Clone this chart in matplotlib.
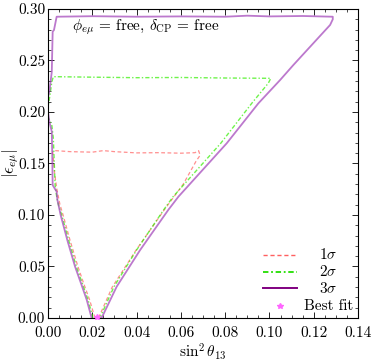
import matplotlib
matplotlib.use("Agg")
import matplotlib.pyplot as plt
from matplotlib.ticker import MultipleLocator, FormatStrFormatter

plt.rcParams['font.family'] = ['cmr10', 'DejaVu Serif']
plt.rcParams['mathtext.fontset'] = 'cm'
plt.rcParams['axes.unicode_minus'] = False
plt.rcParams['axes.formatter.use_mathtext'] = True

# 3 sigma contour (sin^2 theta13, |eps_emu|)
s3_x = [0.0197, 0.0175, 0.0150, 0.0122, 0.0088, 0.0057, 0.0042, 0.0039, 0.0021, 0.0019, 0.0017,
        0.0006, 0.0000, 0.0000, 0.0006, 0.0017, 0.0021, 0.0027, 0.0039,
        0.020, 0.040, 0.060, 0.080, 0.090, 0.100, 0.115, 0.1286, 0.1286, 0.1274,
        0.1108, 0.1048, 0.0950, 0.0807, 0.0589, 0.0543, 0.0416, 0.0310, 0.0242]
s3_y = [0.000, 0.0175, 0.033, 0.050, 0.075, 0.100, 0.115, 0.1226, 0.129, 0.160, 0.181,
        0.1906, 0.200, 0.215, 0.2197, 0.239, 0.278, 0.2796, 0.2925,
        0.2930, 0.2925, 0.2928, 0.2925, 0.2935, 0.2928, 0.2932, 0.2925, 0.2900, 0.2845,
        0.2456, 0.231, 0.2084, 0.1696, 0.1178, 0.1049, 0.066, 0.0304, 0.000]

# 2 sigma contour
s2_x = [0.0203, 0.0181, 0.0156, 0.0128, 0.0094, 0.0062, 0.0047, 0.0039, 0.0032, 0.0024, 0.0017,
        0.0000, 0.0000, 0.0009, 0.0017, 0.0024,
        0.020, 0.040, 0.060, 0.080, 0.1006, 0.0995,
        0.0920, 0.0780, 0.0565, 0.0522, 0.0400, 0.0298, 0.0234]
s2_y = [0.000, 0.0175, 0.033, 0.050, 0.075, 0.100, 0.110, 0.118, 0.129, 0.1745, 0.1874,
        0.195, 0.205, 0.2165, 0.229, 0.2343,
        0.2338, 0.2333, 0.2335, 0.2330, 0.2327, 0.228,
        0.2084, 0.1696, 0.1178, 0.1049, 0.066, 0.0304, 0.000]

# 1 sigma contour
s1_x = [0.0212, 0.0188, 0.0162, 0.0135, 0.0100, 0.0068, 0.0054, 0.0040, 0.0030, 0.0021, 0.0032,
        0.010, 0.020, 0.025, 0.030, 0.040, 0.050, 0.060, 0.0664, 0.0680, 0.0687,
        0.0668, 0.0611, 0.0558, 0.0525, 0.0398, 0.0290, 0.0228]
s1_y = [0.000, 0.0175, 0.033, 0.050, 0.075, 0.100, 0.110, 0.125, 0.140, 0.1615, 0.1625,
        0.1615, 0.1610, 0.1625, 0.1615, 0.1603, 0.1605, 0.1600, 0.1605, 0.1625, 0.158,
        0.152, 0.130, 0.1146, 0.105, 0.066, 0.030, 0.000]

best_x = [0.022]
best_y = [0.0005]

xticks = [0.00, 0.02, 0.04, 0.06, 0.08, 0.10, 0.12, 0.14]
yticks = [0.00, 0.05, 0.10, 0.15, 0.20, 0.25, 0.30]

fig = plt.figure(figsize=(3.82, 3.64), dpi=100)
ax = fig.add_axes([0.1257, 0.1264, 0.8115, 0.8489])

ax.plot(s1_x, s1_y, color='#ff6060', lw=0.9, ls=(0, (3, 2)), alpha=0.7)
ax.plot(s2_x, s2_y, color='#33ee00', lw=1.0, ls=(0, (3, 1.5, 1, 1.5)), alpha=0.7)
ax.plot(s3_x, s3_y, color='#a040b8', lw=1.3, alpha=0.7)
ax.plot(best_x, best_y, ls='none', marker='*', color='#ff66ff', ms=4, clip_on=False, zorder=5)

ax.set_xlim(0, 0.14)
ax.set_ylim(0, 0.30)
ax.set_xticks(xticks)
ax.set_yticks(yticks)
ax.xaxis.set_major_formatter(FormatStrFormatter('%.2f'))
ax.yaxis.set_major_formatter(FormatStrFormatter('%.2f'))
ax.xaxis.set_minor_locator(MultipleLocator(0.005))
ax.yaxis.set_minor_locator(MultipleLocator(0.01))
ax.tick_params(which='both', direction='in', top=True, right=True, labelsize=11)
ax.tick_params(which='major', length=4, width=0.6)
ax.tick_params(axis='x', which='major', pad=6)
ax.tick_params(axis='y', which='major', pad=2)
ax.tick_params(which='minor', length=2, width=0.5)
for s in ax.spines.values():
    s.set_linewidth(0.8)

ax.set_xlabel(r'$\sin^2\theta_{13}$', fontsize=11)
ax.set_ylabel(r'$|\epsilon_{e\mu}|$', fontsize=12)
ax.xaxis.set_label_coords(0.5, -0.076)
ax.yaxis.set_label_coords(-0.088, 0.5)

ax.text(0.077, 0.942, r'$\phi_{e\mu}$ = free, $\delta_{\rm CP}$ = free', transform=ax.transAxes,
        fontsize=11, va='center', ha='left')

# legend drawn manually
leg_rows = [0.204, 0.149, 0.097]
leg_styles = [dict(color='#ff6060', lw=1.0, ls=(0, (3, 2))),
              dict(color='#22dd00', lw=1.3, ls=(0, (3, 1.5, 1, 1.5))),
              dict(color='#800080', lw=1.4, ls='-')]
leg_labels = [r'$1\sigma$', r'$2\sigma$', r'$3\sigma$']
for yy, st, lab in zip(leg_rows, leg_styles, leg_labels):
    ax.plot([0.694, 0.803], [yy, yy], transform=ax.transAxes, clip_on=False, **st)
    ax.text(0.905, yy, lab, transform=ax.transAxes, ha='center', va='center', fontsize=11)
ax.plot([0.748], [0.039], transform=ax.transAxes, marker='*', color='#ff66ff', ms=4, ls='none')
ax.text(0.905, 0.039, 'Best fit', transform=ax.transAxes, ha='center', va='center', fontsize=11)

fig.savefig('out.png', dpi=100)
